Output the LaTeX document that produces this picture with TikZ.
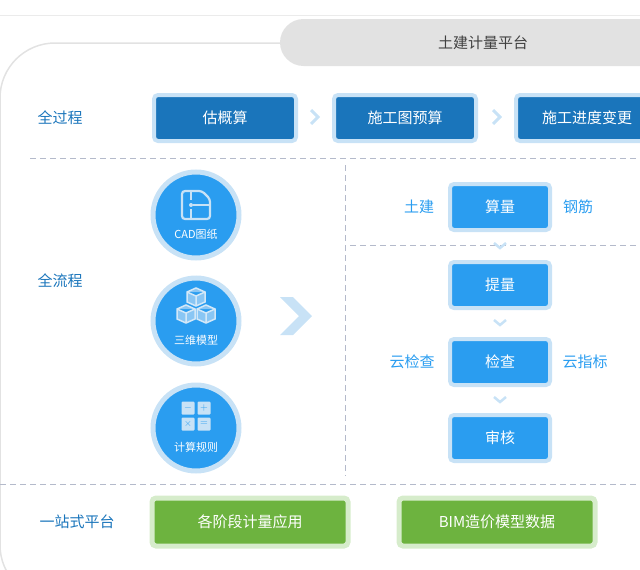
\documentclass[tikz,border=0pt]{standalone}
\usepackage{fontspec}
\setmainfont{Noto Sans CJK SC}
\usetikzlibrary{positioning}
\definecolor{darkblue}{HTML}{1A75BB}
\definecolor{lightblue}{HTML}{2A9DF0}
\definecolor{haloblue}{HTML}{C8E2F6}
\definecolor{pillgray}{HTML}{E2E2E2}
\definecolor{dashgray}{HTML}{B4BACB}
\definecolor{okgreen}{HTML}{6DB33F}
\definecolor{halogreen}{HTML}{D6ECCB}
\tikzset{
  stage/.style={draw=haloblue, line width=4pt, fill=darkblue, rounded corners=4pt,
    minimum width=142pt, minimum height=46pt, text=white, font=\fontsize{15}{15}\selectfont},
  calcstep/.style={draw=haloblue, line width=4pt, fill=lightblue, rounded corners=4pt,
    minimum width=100pt, minimum height=46pt, text=white, font=\fontsize{15}{15}\selectfont},
  tool/.style={draw=halogreen, line width=5pt, fill=okgreen, rounded corners=4pt,
    minimum width=196pt, minimum height=48pt, text=white, font=\fontsize{15}{15}\selectfont},
  source/.style={circle, draw=haloblue, line width=5pt, fill=lightblue, minimum size=86pt},
  rowlabel/.style={text=darkblue, font=\fontsize{15}{15}\selectfont},
  sidelabel/.style={text=lightblue, font=\fontsize{15}{15}\selectfont},
  divider/.style={dashgray, line width=1pt, dash pattern=on 6pt off 4pt},
  chev/.style={haloblue, line width=3pt},
}
\begin{document}
\begin{tikzpicture}[x=1pt,y=-1pt]
\useasboundingbox (0,0) rectangle (640,570);
\draw[pillgray!70, line width=1pt] (0,15) -- (640,15);
\draw[pillgray, line width=1.5pt, rounded corners=55pt] (640,43) -- (0,43) -- (0,600) -- (640,600);
\fill[pillgray, rounded corners=23.5pt] (280,19) rectangle (690,66);
\node[font=\fontsize{15}{15}\selectfont, text=black!75] (platform) at (483,43) {土建计量平台};
% process row
\node[rowlabel] (process) at (60,118) {全过程};
\node[stage] (estimate) at (225,118) {估概算};
\node[stage] (budget) at (405,118) {施工图预算};
\node[stage, anchor=west] (change) at (514,118) {施工进度变更};
\foreach \x in {315,497} \draw[chev] (\x-4,110) -- (\x+3,117) -- (\x-4,124);
\draw[divider] (30,158) -- (640,158);
% flow row
\node[rowlabel] (flow) at (60,281) {全流程};
\node[source] (cad) at (196,215) {};
\node[source] (model) at (196,321) {};
\node[source] (rules) at (196,428) {};
\node[text=white, font=\fontsize{11}{11}\selectfont] (cadtext) at (196,234) {CAD图纸};
\node[text=white, font=\fontsize{11}{11}\selectfont] (modeltext) at (196,340) {三维模型};
\node[text=white, font=\fontsize{11}{11}\selectfont] (rulestext) at (196,447) {计算规则};
% icons
\draw[haloblue, line width=2.2pt, rounded corners=3pt] (182,191) -- (202,191) -- (210,199) -- (210,219) -- (182,219) -- cycle;
\draw[haloblue, line width=2pt] (191,191) -- (191,200) (191,209) -- (191,219) (193,205) -- (210,205);
\fill[haloblue] (191,205) circle (2pt);
\foreach \cx/\cy in {196/296,186/313,206/313}
  \draw[white!20!haloblue, fill=haloblue!60!lightblue, line width=1.5pt] (\cx-9,\cy-4) -- (\cx,\cy-8) -- (\cx+9,\cy-4) -- (\cx+9,\cy+6) -- (\cx,\cy+10) -- (\cx-9,\cy+6) -- cycle (\cx-9,\cy-4) -- (\cx,\cy) -- (\cx+9,\cy-4) (\cx,\cy) -- (\cx,\cy+10);
\foreach \cx/\cy/\s in {188/408/$-$,204/408/$+$,188/424/$\times$,204/424/$=$}
  \node[fill=haloblue, minimum size=13pt, inner sep=0pt, rounded corners=1pt, text=lightblue, font=\bfseries] at (\cx,\cy) {\s};
\fill[haloblue] (280,297) -- (293,297) -- (312,316) -- (293,335) -- (280,335) -- (299,316) -- cycle;
\draw[divider] (345,165) -- (345,476);
\draw[divider] (350,245) -- (640,245);
% right column
\node[calcstep] (measure) at (500,207) {算量};
\node[calcstep] (extract) at (500,285) {提量};
\node[calcstep] (check) at (500,362) {检查};
\node[calcstep] (review) at (500,438) {审核};
\node[sidelabel] (civil) at (419,207) {土建};
\node[sidelabel] (rebar) at (578,207) {钢筋};
\node[sidelabel] (cloudcheck) at (412,362) {云检查};
\node[sidelabel] (cloudindex) at (585,362) {云指标};
\foreach \y in {246,323,400} \draw[haloblue, line width=2.5pt] (494,\y-3) -- (500,\y+2) -- (506,\y-3);
\draw[divider] (0,484) -- (640,484);
% platform row
\node[rowlabel] (onestop) at (77,522) {一站式平台};
\node[tool] (apply) at (250,522) {各阶段计量应用};
\node[tool] (bim) at (497,522) {BIM造价模型数据};
\end{tikzpicture}
\end{document}
